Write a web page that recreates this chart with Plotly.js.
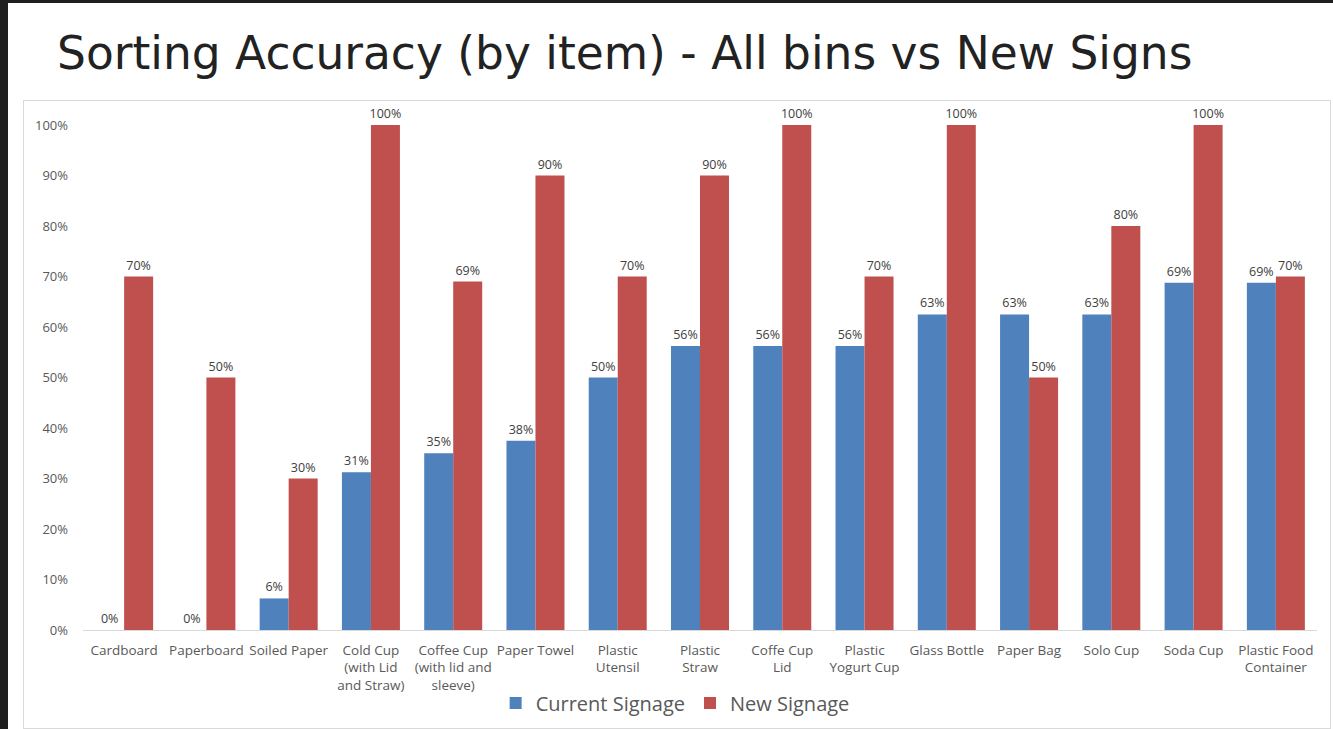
<!DOCTYPE html>
<html>
<head>
<meta charset="utf-8">
<script src="https://cdn.plot.ly/plotly-3.0.1.min.js"></script>
<style>
  html, body { margin:0; padding:0; background:#1f1f1f; width:1333px; height:729px; overflow:hidden; }
  #slide { position:absolute; left:8px; top:3px; width:1325px; height:726px; background:#ffffff; }
  #chart { position:absolute; left:0; top:0; width:1325px; height:726px; }
  #frame { position:absolute; left:15px; top:97px; width:1306px; height:627px; border:1px solid #d9d9d9; pointer-events:none; }
</style>
</head>
<body>
<div id="slide">
  <div id="chart"></div>
  <div id="frame"></div>
</div>
<script>
const categories = [
  "Cardboard", "Paperboard", "Soiled Paper", "Cold Cup<br>(with Lid<br>and Straw)",
  "Coffee Cup<br>(with lid and<br>sleeve)", "Paper Towel", "Plastic<br>Utensil", "Plastic<br>Straw",
  "Coffe Cup<br>Lid", "Plastic<br>Yogurt Cup", "Glass Bottle", "Paper Bag",
  "Solo Cup", "Soda Cup", "Plastic Food<br>Container"
];
const currentSignage = [0, 0, 0.0625, 0.3125, 0.35, 0.375, 0.5, 0.5625, 0.5625, 0.5625, 0.625, 0.625, 0.625, 0.6875, 0.6875];
const newSignage = [0.7, 0.5, 0.3, 1.0, 0.69, 0.9, 0.7, 0.9, 1.0, 0.7, 1.0, 0.5, 0.8, 1.0, 0.7];
const yTickVals = [0, 0.1, 0.2, 0.3, 0.4, 0.5, 0.6, 0.7, 0.8, 0.9, 1.0];

const labelFont = {family: "Open Sans, sans-serif", size: 12.5, color: "#404040"};

const traces = [
  {
    type: "bar", name: "Current Signage", x: categories, y: currentSignage,
    marker: {color: "#4F81BD"},
    texttemplate: "%{y:.0%}", textposition: "outside", cliponaxis: false,
    constraintext: "none", outsidetextfont: labelFont, textfont: labelFont,
    hoverinfo: "skip"
  },
  {
    type: "bar", name: "New Signage", x: categories, y: newSignage,
    marker: {color: "#C0504D"},
    texttemplate: "%{y:.0%}", textposition: "outside", cliponaxis: false,
    constraintext: "none", outsidetextfont: labelFont, textfont: labelFont,
    hoverinfo: "skip"
  }
];

const layout = {
  width: 1325, height: 726,
  paper_bgcolor: "rgba(0,0,0,0)", plot_bgcolor: "rgba(0,0,0,0)",
  margin: {l: 75, r: 16, t: 121.5, b: 99, autoexpand: false},
  title: {
    text: "Sorting Accuracy (by item) - All bins vs New Signs",
    font: {family: "DejaVu Sans, sans-serif", size: 45.5, color: "#222222"},
    xref: "container", yref: "container",
    x: 49 / 1325, xanchor: "left",
    y: 1 - 50 / 726, yanchor: "middle"
  },
  barmode: "group", bargap: 0.295, bargroupgap: 0,
  showlegend: true,
  legend: {
    orientation: "h", xref: "container", yref: "container",
    x: 0.5035, xanchor: "center", y: 1 - 700 / 726, yanchor: "middle",
    font: {family: "Open Sans, sans-serif", size: 20, color: "#595959"},
    itemwidth: 30, traceorder: "normal"
  },
  xaxis: {
    type: "category", showgrid: false, zeroline: false, automargin: false,
    showline: false, ticks: "",
    tickfont: {family: "Open Sans, sans-serif", size: 13.5, color: "#595959"},
    tickangle: 0, ticklabelstandoff: 10
  },
  yaxis: {
    range: [0, 1], tickvals: yTickVals, tickformat: ".0%", automargin: false,
    showgrid: false, zeroline: true, zerolinecolor: "#d9d9d9", zerolinewidth: 1,
    showline: false, ticks: "",
    tickfont: {family: "Open Sans, sans-serif", size: 13, color: "#595959"},
    ticklabelstandoff: 14
  }
};

Plotly.newPlot("chart", traces, layout, {displayModeBar: false, staticPlot: true});
</script>
</body>
</html>
